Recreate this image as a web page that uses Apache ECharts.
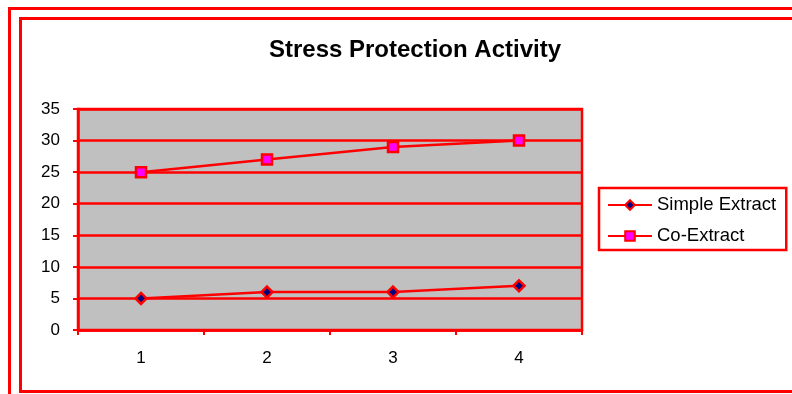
<!DOCTYPE html>
<html>
<head>
<meta charset="utf-8">
<script src="https://cdn.jsdelivr.net/npm/echarts@6/dist/echarts.min.js"></script>
<style>
  html, body { margin: 0; padding: 0; background: #fff; }
  #chart { width: 792px; height: 394px; }
</style>
</head>
<body>
<div id="chart"></div>
<script>
// Stress protection measurements by sample
const categories = ['1', '2', '3', '4'];
const simpleExtract = [5, 6, 6, 7];
const coExtract = [25, 27, 29, 30];
const yTicks = { min: 0, max: 35, interval: 5 };

const RED = '#FF0000';
const FONT = 'Liberation Sans, Arial, sans-serif';

const chart = echarts.init(document.getElementById('chart'), null, { renderer: 'canvas' });

chart.setOption({
  animation: false,
  backgroundColor: '#ffffff',
  title: {
    text: 'Stress Protection Activity',
    left: 410,
    top: 33,
    textAlign: 'center',
    textStyle: { fontFamily: FONT, fontSize: 24, fontWeight: 'bold', color: '#000' }
  },
  graphic: [
    { type: 'rect', shape: { x: 9.5, y: 8.5, width: 820, height: 420 },
      style: { fill: null, stroke: RED, lineWidth: 3 }, silent: true },
    { type: 'rect', shape: { x: 20.5, y: 18.5, width: 820, height: 373 },
      style: { fill: null, stroke: RED, lineWidth: 3 }, silent: true }
  ],
  grid: {
    left: 78, right: 210, top: 109, bottom: 64,
    show: true, backgroundColor: '#C0C0C0', borderColor: RED, borderWidth: 2.5
  },
  legend: {
    orient: 'vertical',
    left: 599, top: 188,
    borderColor: RED, borderWidth: 2.5,
    padding: [7, 10, 4, 8],
    itemWidth: 44, itemHeight: 12, itemGap: 11,
    textStyle: { fontFamily: FONT, fontSize: 18.5, color: '#000', lineHeight: 20 },
    data: ['Simple Extract', 'Co-Extract']
  },
  xAxis: {
    type: 'category',
    data: categories,
    boundaryGap: true,
    axisLine: { lineStyle: { color: RED, width: 2.5 } },
    axisTick: { show: true, length: 5, lineStyle: { color: RED, width: 2 } },
    axisLabel: { fontFamily: FONT, fontSize: 17, color: '#000', margin: 20 },
    splitLine: { show: false }
  },
  yAxis: {
    type: 'value',
    min: yTicks.min, max: yTicks.max, interval: yTicks.interval,
    axisLine: { show: true, lineStyle: { color: RED, width: 2.5 } },
    axisTick: { show: true, length: 5, lineStyle: { color: RED, width: 2 } },
    axisLabel: { fontFamily: FONT, fontSize: 17, color: '#000', margin: 18 },
    splitLine: { show: true, lineStyle: { color: RED, width: 2.5 } }
  },
  series: [
    {
      name: 'Simple Extract',
      type: 'line',
      data: simpleExtract,
      symbol: 'diamond',
      symbolSize: 11,
      lineStyle: { color: RED, width: 2.5 },
      itemStyle: { color: '#000080', borderColor: RED, borderWidth: 2.5 }
    },
    {
      name: 'Co-Extract',
      type: 'line',
      data: coExtract,
      symbol: 'rect',
      symbolSize: 10,
      lineStyle: { color: RED, width: 2.5 },
      itemStyle: { color: '#FF00FF', borderColor: RED, borderWidth: 2.5 }
    }
  ]
});
</script>
</body>
</html>
